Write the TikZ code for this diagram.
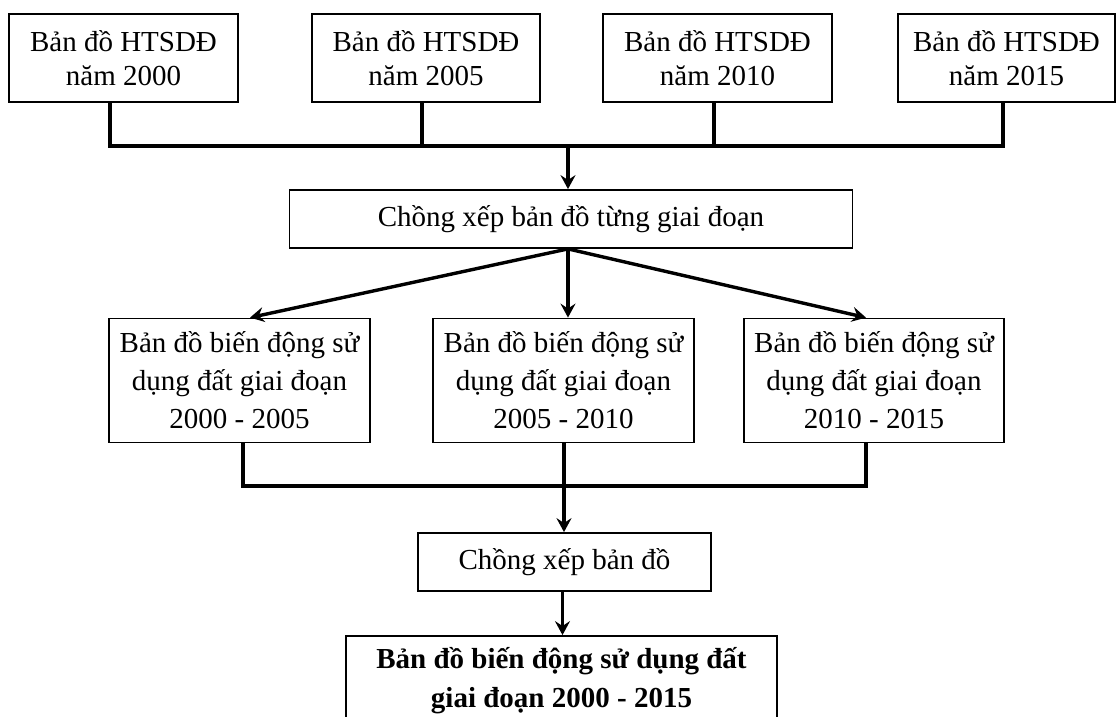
\documentclass[tikz,border=0pt]{standalone}
\usepackage{fontspec}
\setmainfont{Liberation Serif}
\usetikzlibrary{arrows.meta,calc,positioning}

\tikzset{
  box/.style={draw, line width=0.9pt, align=center, inner sep=0pt,
    font=\fontsize{14.5}{17}\selectfont},
  mapbox/.style={box, minimum height=44pt},
  changebox/.style={box, minimum width=130.5pt, minimum height=62pt,
    font=\fontsize{14.5}{19}\selectfont},
  conn/.style={line width=1.7pt},
  arr/.style={conn, -{Stealth[length=7pt, width=7.5pt, inset=2.5pt]}}
}

\begin{document}
\begin{tikzpicture}[x=0.5pt, y=-0.5pt]
  \useasboundingbox (0,0) rectangle (1116,717);

  % ban do hien trang
  \foreach \yr/\cx/\w in {2000/123.5/114.5, 2005/426/114, 2010/717.5/114.5, 2015/1006.5/108.5}
    \node[mapbox, minimum width=\w pt] (t\yr) at (\cx,58) {Bản đồ HTSDĐ\\năm \yr};

  \coordinate (j1) at (568,146);
  \draw[conn] ([xshift=-6.75pt]t2000.south) |- (j1) -| ([xshift=-1.75pt]t2015.south);
  \draw[conn] ([xshift=-2pt]t2005.south) -- ([xshift=-2pt]t2005.south |- j1);
  \draw[conn] ([xshift=-1.75pt]t2010.south) -- ([xshift=-1.75pt]t2010.south |- j1);

  \node[box, minimum width=281.5pt, minimum height=29pt] (m) at (571,219) {Chồng xếp bản đồ từng giai đoạn};
  \draw[arr] (j1) -- (j1 |- m.north);

  % ban do bien dong
  \node[changebox] (a) at (239.5,380.5) {Bản đồ biến động sử\\dụng đất giai đoạn\\2000 - 2005};
  \node[changebox] (b) at (563.5,380.5) {Bản đồ biến động sử\\dụng đất giai đoạn\\2005 - 2010};
  \node[changebox, minimum width=130pt] (c) at (874,380.5) {Bản đồ biến động sử\\dụng đất giai đoạn\\2010 - 2015};

  \coordinate (m0) at ([xshift=-1.5pt]m.south);
  \draw[arr] (m0) -- ([xshift=5.25pt]a.north);
  \draw[arr] (m0) -- (m0 |- b.north);
  \draw[arr] (m0) -- ([xshift=-4pt]c.north);

  \coordinate (j2) at (564,486);
  \draw[conn] ([xshift=1.75pt]a.south) |- (j2) -| ([xshift=-4pt]c.south);
  \draw[conn] (j2 |- b.south) -- (j2);

  \node[box, minimum width=146.5pt, minimum height=29pt] (n) at (564.5,562) {Chồng xếp bản đồ};
  \draw[arr] (j2) -- (j2 |- n.north);

  \node[box, minimum width=215.5pt, minimum height=45pt,
    font=\fontsize{14.5}{19.5}\selectfont\bfseries] (f) at (561.5,681)
    {Bản đồ biến động sử dụng đất\\giai đoạn 2000 - 2015};
  \draw[arr] ([xshift=-1pt]n.south) -- ([xshift=-1pt]n.south |- f.north);
\end{tikzpicture}
\end{document}
